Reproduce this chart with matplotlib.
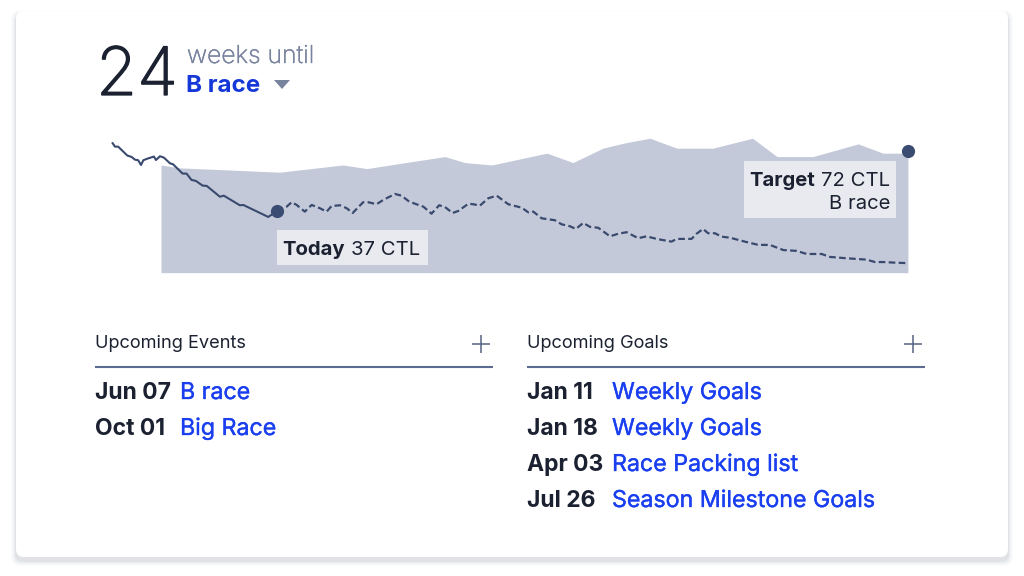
import matplotlib
matplotlib.use("Agg")
import matplotlib.pyplot as plt
import matplotlib.patheffects as pe
from matplotlib.patches import FancyBboxPatch, Rectangle, Polygon

plt.rcParams['font.family'] = ['Inter', 'DejaVu Sans']

# CTL history up to today (weeks relative to today)
past_weeks = [-6.25, -6.16, -6.04, -5.69, -5.53, -5.40, -5.28, -5.17, -5.08, -4.89, -4.68, -4.60, -4.45, -4.30,
              -4.07, -3.95, -3.59, -3.44, -3.25, -3.08, -2.83, -2.67, -2.17, -2.02, -1.41, -1.28, -0.33, 0]
past_ctl = [76.5, 74.5, 74.5, 69.3, 68.5, 66.9, 66.6, 63.8, 66.6, 67.7, 68.7, 66.7, 68.9, 68.1,
            64.8, 64.2, 58.8, 58.8, 55.1, 54.5, 51.8, 51.6, 45.3, 45.9, 40.3, 40.5, 33.5, 37]

# projected CTL
future_weeks = [0, 0.37, 0.56, 0.75, 1.06, 1.32, 1.63, 1.89, 2.08, 2.40, 2.65, 2.88, 3.28, 3.47, 3.79, 4.04, 4.49,
                4.74, 5.00, 5.25, 5.57, 5.88, 6.17, 6.39, 6.68, 6.90, 7.28, 7.47, 7.72, 8.04, 8.36, 8.80, 9.31,
                9.56, 9.75, 10.07, 10.57, 10.83, 11.14, 11.37, 11.65, 11.91, 12.22, 12.67, 12.98, 13.30, 13.74,
                14.06, 14.44, 15.01, 15.20, 15.77, 15.96, 16.21, 16.40, 16.66, 16.91, 17.23, 17.80, 18.31, 18.75,
                19.26, 19.77, 20.15, 20.72, 21.03, 21.67, 22.43, 22.75, 23.06, 23.57, 23.95]
future_ctl = [37, 39.5, 42.1, 40.5, 36.6, 40.5, 38.6, 36.6, 39.9, 40.3, 38.6, 35.8, 42.1, 42.1, 40.9, 43.4, 46.9,
              45.9, 42.8, 41.2, 39.5, 35.4, 40.3, 39.3, 35.8, 37.0, 41.2, 40.9, 40.1, 44.4, 45.9, 40.9, 38.9,
              36.2, 36.6, 32.7, 31.6, 29.2, 28.1, 26.5, 30.0, 27.7, 27.2, 22.2, 23.7, 24.6, 21.1,
              22.2, 20.7, 19.1, 20.7, 20.7, 23.7, 26.5, 24.0, 24.0, 22.0, 21.4, 19.1, 17.2, 17.2,
              14.2, 13.7, 11.9, 11.9, 10.2, 9.4, 8.6, 7.2, 7.2, 6.8, 6.6]

# target band
band_weeks = [-4.41, -3.69, 0.11, 2.51, 3.42, 6.39, 7.15, 8.18, 10.27, 11.26, 12.40, 13.24, 14.19, 15.21, 16.58,
              18.09, 19.02, 20.39, 22.11, 23.05, 24]
band_ctl = [63.8, 62.1, 59.6, 63.8, 61.7, 68.7, 65.2, 63.8, 70.7, 65.2, 73.6, 76.7, 79.4, 73.6, 73.6,
            79.4, 68.7, 68.7, 76.1, 70.7, 70.7]
band_base = 1

today_ctl = 37
target_ctl = 72
target_week = 24

event_dates = ["Jun 07", "Oct 01"]
event_names = ["B race", "Big Race"]
goal_dates = ["Jan 11", "Jan 18", "Apr 03", "Jul 26"]
goal_names = ["Weekly Goals", "Weekly Goals", "Race Packing list", "Season Milestone Goals"]

INK = "#1B2130"
BLUE = "#1A3FF0"
NAVY = "#3A4A6E"
BAND = "#C3C9D9"
SLATE = "#78839E"

fig = plt.figure(figsize=(10.24, 5.76), dpi=100, facecolor="white")

# background layer, in pixels
bg = fig.add_axes([0, 0, 1, 1], zorder=0)
bg.set_xlim(0, 1024)
bg.set_ylim(576, 0)
bg.axis("off")

# soft shadow under the card, pushed down a little
for grow, alpha in [(5, 0.012), (4, 0.018), (3, 0.025), (2, 0.035), (1, 0.05)]:
    bg.add_patch(FancyBboxPatch((24 - grow, 23 - grow), 976 + 2 * grow, 530 + 2 * grow,
                                boxstyle="round,pad=8", fc="#2A3050", ec="none", alpha=alpha))
bg.add_patch(FancyBboxPatch((24, 19), 976, 530, boxstyle="round,pad=8", fc="white", ec="none"))

# chart, weeks on x and CTL on y
ax = fig.add_axes([100 / 1024, (576 - 280) / 576, 820 / 1024, 150 / 576], zorder=1)
ax.set_xlim(-6.73, 24.46)
ax.set_ylim(-3.27, 84.2)
ax.axis("off")
ax.fill_between(band_weeks, band_ctl, band_base, color=BAND, lw=0)
ax.plot(past_weeks, past_ctl, color=NAVY, lw=1.5, solid_joinstyle="round")
ax.plot(future_weeks, future_ctl, color=NAVY, lw=1.6, dashes=(3.0, 1.5))
ax.scatter([0, target_week], [today_ctl, target_ctl], s=90, color="#3B4C72", lw=0, zorder=3, clip_on=False)

# text layer, in pixels
top = fig.add_axes([0, 0, 1, 1], zorder=2)
top.set_xlim(0, 1024)
top.set_ylim(576, 0)
top.axis("off")
top.patch.set_alpha(0)

big = top.text(96, 95, "24", fontsize=48, color=INK, fontweight="light", va="baseline")
big.set_path_effects([pe.withStroke(linewidth=0.9, foreground=INK)])
top.text(187, 63, "weeks until", fontsize=17.8, color=SLATE, fontweight="light", va="baseline",
         path_effects=[pe.withStroke(linewidth=0.3, foreground=SLATE)])
top.text(186, 92, "B race", fontsize=17.4, color="#1538D8", fontweight="bold", va="baseline")
top.add_patch(Polygon([(274, 80), (290, 80), (282, 89)], closed=True, fc=SLATE, ec="none"))

top.add_patch(Rectangle((277, 230), 151, 35, fc="#E8EAF0", ec="none"))
top.text(282, 255, "Today", fontsize=14.6, color=INK, fontweight="bold", va="baseline")
top.text(351, 255, "37 CTL", fontsize=14.6, color=INK, va="baseline")

top.add_patch(Rectangle((744, 161), 152, 57, fc="#E8EAF0", ec="none"))
top.text(749, 186, "Target", fontsize=14.6, color=INK, fontweight="bold", va="baseline")
top.text(890, 186, "72 CTL", fontsize=14.6, color=INK, ha="right", va="baseline")
top.text(890, 209, "B race", fontsize=14.6, color=INK, ha="right", va="baseline")


def draw_list(x0, x1, title, dates, names, name_x):
    top.text(x0, 348, title, fontsize=13.1, color=INK, va="baseline")
    top.plot([x0, x1], [367, 367], color="#5A6A90", lw=1.5, solid_capstyle="butt")
    # plus button
    px = x1 - 12.5
    top.plot([px - 9, px + 9], [344, 344], color="#55627F", lw=1.1, solid_capstyle="butt")
    top.plot([px, px], [335, 353], color="#55627F", lw=1.1, solid_capstyle="butt")
    for i, (d, n) in enumerate(zip(dates, names)):
        y = 399 + 36 * i
        top.text(x0, y, d, fontsize=16.5, color=INK, fontweight="bold", va="baseline")
        top.text(name_x, y, n, fontsize=16.7, color=BLUE, va="baseline",
                 path_effects=[pe.withStroke(linewidth=0.25, foreground=BLUE)])


draw_list(95, 493, "Upcoming Events", event_dates, event_names, 180)
draw_list(527, 925, "Upcoming Goals", goal_dates, goal_names, 612)

fig.savefig("out.png", dpi=100)
